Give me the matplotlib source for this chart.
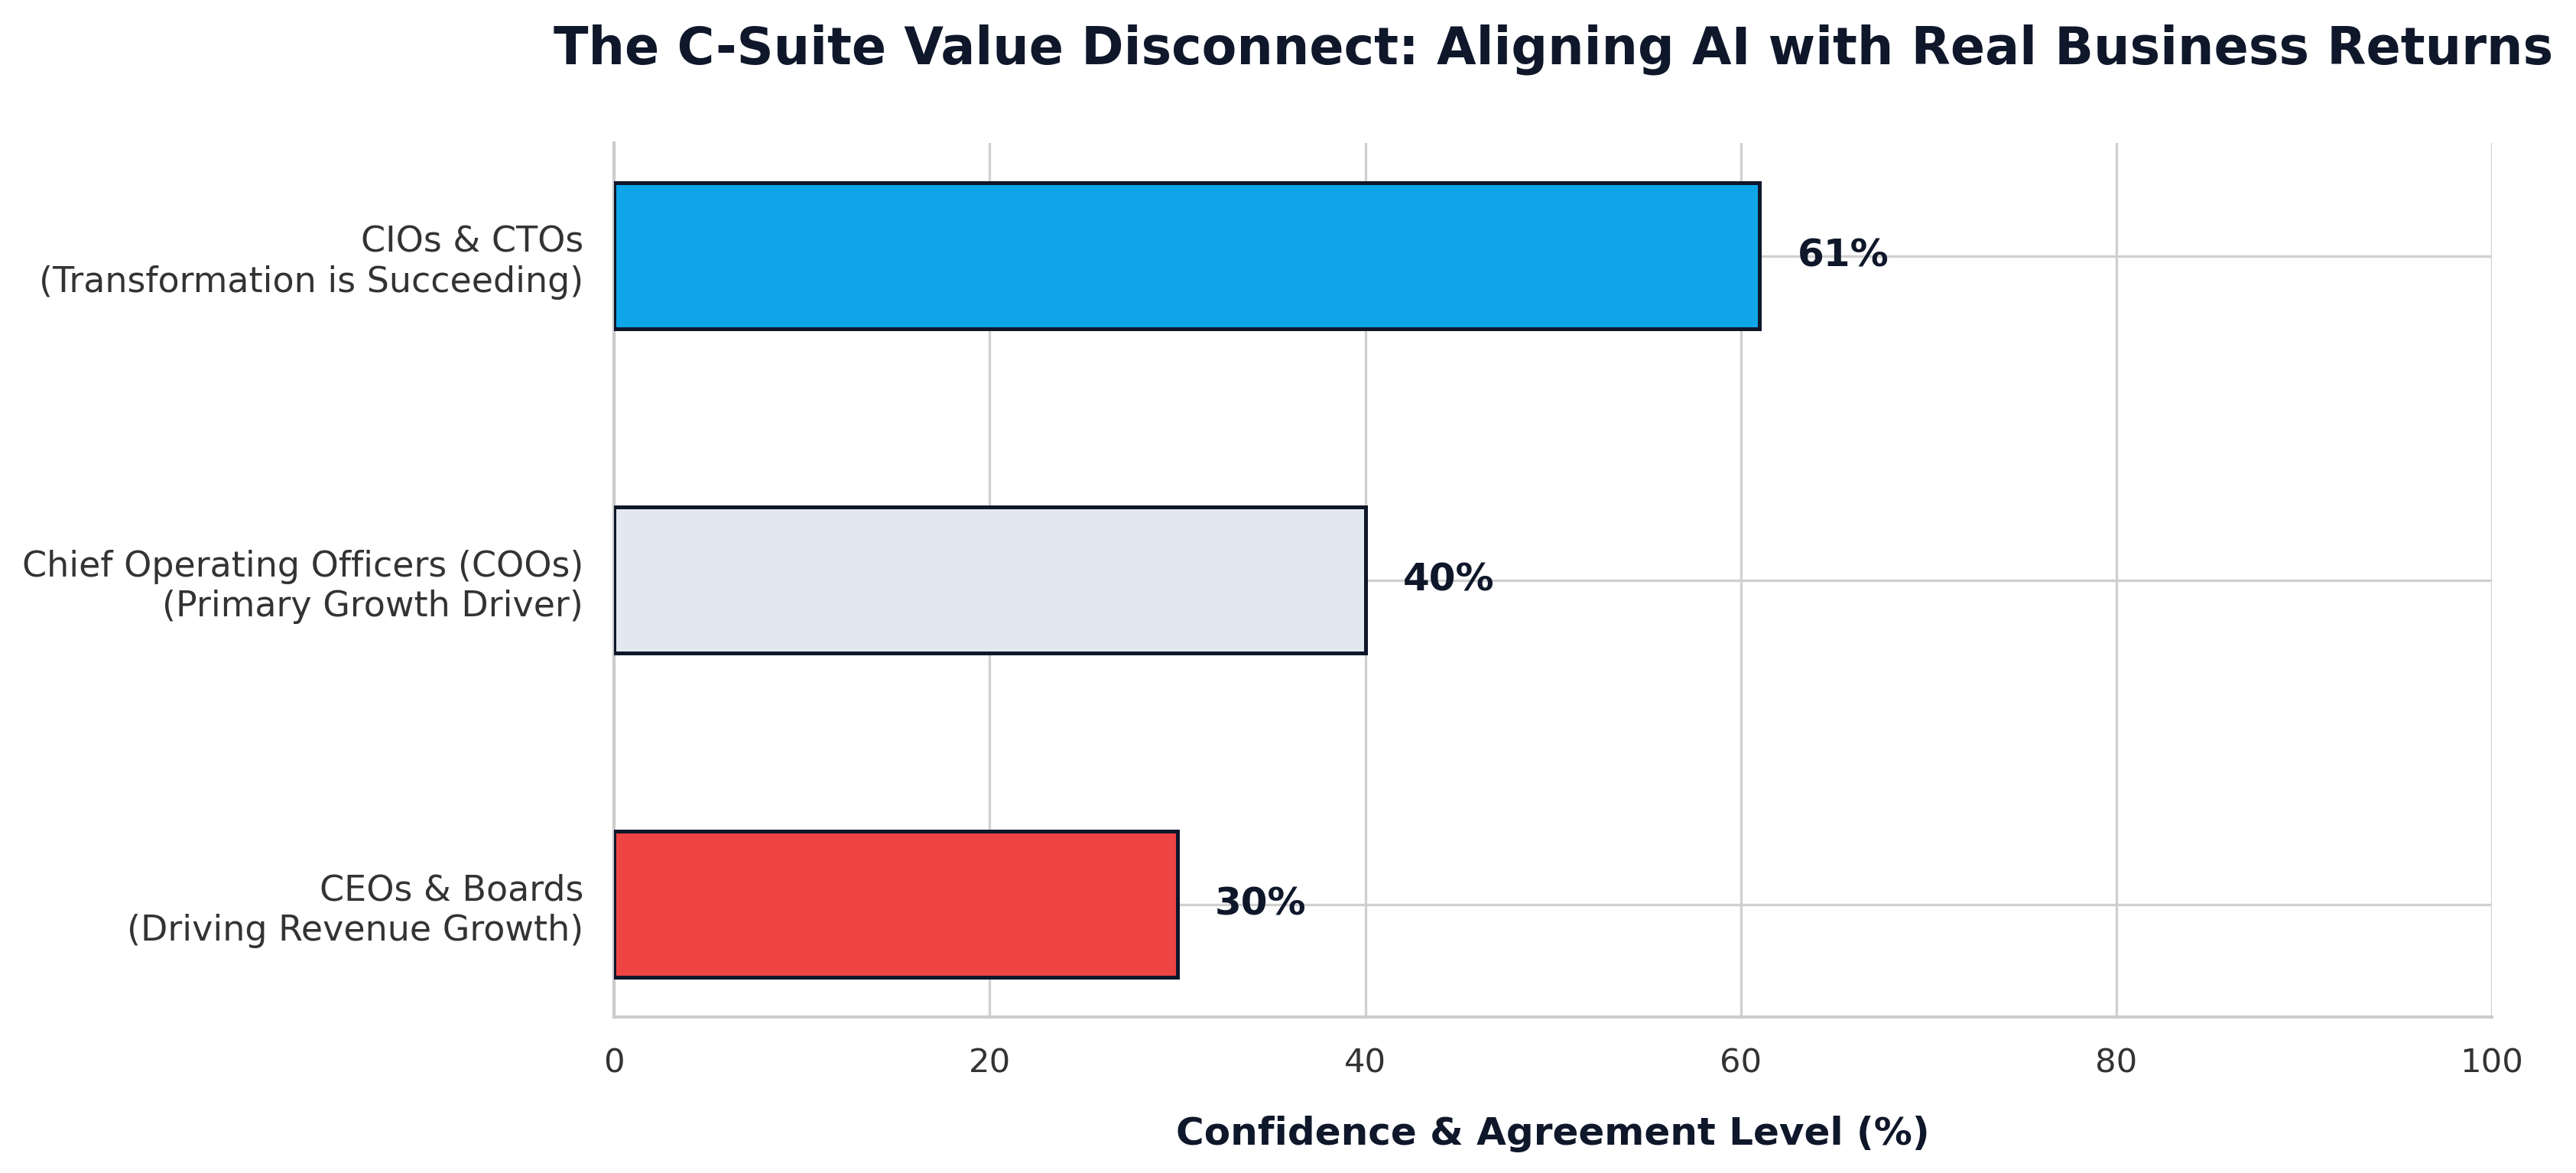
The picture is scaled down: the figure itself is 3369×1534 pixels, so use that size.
import matplotlib
matplotlib.use("Agg")
import matplotlib.pyplot as plt
import seaborn as sns

categories = ["CEOs & Boards\n(Driving Revenue Growth)",
              "Chief Operating Officers (COOs)\n(Primary Growth Driver)",
              "CIOs & CTOs\n(Transformation is Succeeding)"]
values = [30, 40, 61]
colors = ["#EF4444", "#E2E8F0", "#0EA5E9"]
xticks = [0, 20, 40, 60, 80, 100]

sns.set_theme(style="whitegrid")
plt.rcParams['font.family'] = ['DejaVu Sans']

DPI = 240
fig = plt.figure(figsize=(3369/DPI, 1534/DPI), dpi=DPI)
ax = fig.add_axes([0.2384, 0.133, 0.729, 0.745])

ypos = list(range(len(categories)))
ax.barh(ypos, values, height=0.45, color=colors, edgecolor="#0F172A", linewidth=1.5, zorder=3)
for y, v in zip(ypos, values):
    ax.text(v + 2, y, f"{v}%", ha="left", va="center", fontsize=15, fontweight="bold",
            color="#0F172A", zorder=4)

ax.set_yticks(ypos)
ax.set_yticklabels(categories, fontsize=13.8, color="#333333")
ax.set_xlim(0, 100)
ax.set_xticks(xticks)
ax.set_xticklabels([str(t) for t in xticks], fontsize=13, color="#333333")
ax.tick_params(axis="y", length=0, pad=12)
ax.tick_params(axis="x", length=0, pad=12)
ax.set_xlabel("Confidence & Agreement Level (%)", fontsize=15, fontweight="bold",
              color="#0F172A", labelpad=14)
ax.set_title("The C-Suite Value Disconnect: Aligning AI with Real Business Returns",
             fontsize=20, fontweight="bold", color="#0F172A", pad=31)
ax.grid(True, color="#d0d0d0", linewidth=1.0, zorder=0)
ax.set_axisbelow(True)
for s in ["top", "right"]:
    ax.spines[s].set_visible(False)
for s in ["left", "bottom"]:
    ax.spines[s].set_color("#cccccc")
    ax.spines[s].set_linewidth(1.25)

fig.savefig("out.png", dpi=DPI)
